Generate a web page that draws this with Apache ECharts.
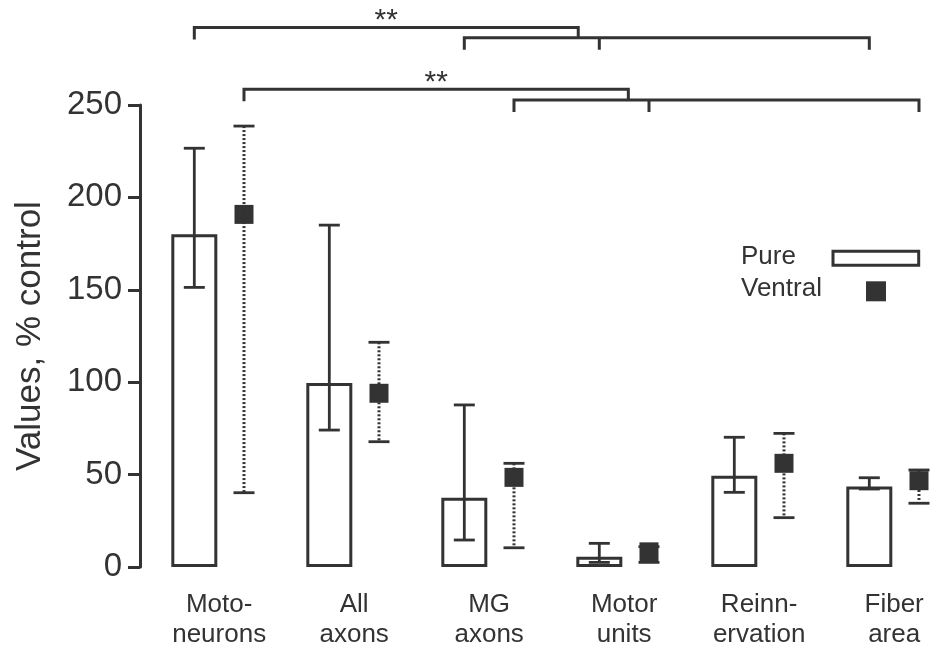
<!DOCTYPE html>
<html>
<head>
<meta charset="utf-8">
<title>Values, % control</title>
<script src="https://cdn.jsdelivr.net/npm/echarts@6/dist/echarts.min.js"></script>
<style>
  html, body { margin: 0; padding: 0; background: #fff; }
  #chart { width: 934px; height: 650px; }
</style>
</head>
<body>
<div id="chart"></div>
<script>
// categories sit at integer x; pure bar on the left, ventral marker on the right
const categories = ['Moto-\nneurons', 'All\naxons', 'MG\naxons', 'Motor\nunits', 'Reinn-\nervation', 'Fiber\narea']
const pureMean = [180, 99.5, 37.5, 5.6, 49.4, 43.5]
const pureHigh = [226.6, 185, 87.7, 12.8, 70.2, 48.3]
const pureLow = [151.3, 74.1, 14.6, 2.5, 40.4, 42.2]
const ventralMean = [190.8, 94, 48.5, 8.2, 56.1, 46.7]
const ventralHigh = [238.6, 121.6, 56.1, 11, 72.3, 52.5]
const ventralLow = [40.2, 67.8, 10.4, 2.5, 26.7, 34.5]
const yTicks = [0, 50, 100, 150, 200, 250]

// significance brackets (x in category units, y in % control)
const sigLeft = [0, 0]           // category of the single reference
const sigGroup = [[2, 3, 5], [2, 3, 5]]
const sigSide = ['pure', 'ventral']
const sigTop = [292, 258.5]
const sigJoin = [2.66, 3.031]
const sigLow = [286.4, 252.7]
const sigLabel = ['**', '**']

const shift = 0.184
const ink = '#333'
const font = 'Liberation Sans, Arial, sans-serif'

const sx = (i, side) => i + (side === 'pure' ? -shift : shift)

const errRender = dashed => (params, api) => {
  const x = api.value(0)
  const hi = api.coord([x, api.value(2)])
  const lo = api.coord([x, api.value(1)])
  const cap = 10.5
  const style = { stroke: ink, lineWidth: dashed ? 3 : 2.8, lineDash: dashed ? [2, 2] : null }
  const capStyle = { stroke: ink, lineWidth: 2.8 }
  return {
    type: 'group',
    children: [
      { type: 'line', shape: { x1: hi[0], y1: hi[1], x2: lo[0], y2: lo[1] }, style },
      { type: 'line', shape: { x1: hi[0] - cap, y1: hi[1], x2: hi[0] + cap, y2: hi[1] }, style: capStyle },
      { type: 'line', shape: { x1: lo[0] - cap, y1: lo[1], x2: lo[0] + cap, y2: lo[1] }, style: capStyle }
    ]
  }
}

const bracketRender = (params, api) => {
  const k = params.dataIndex
  const side = sigSide[k]
  const tickLen = 12
  const a = api.coord([sx(sigLeft[k], side), sigTop[k]])
  const j = api.coord([sigJoin[k], sigTop[k]])
  const jl = api.coord([sigJoin[k], sigLow[k]])
  const g = sigGroup[k].map(i => api.coord([sx(i, side), sigLow[k]]))
  const style = { stroke: ink, lineWidth: 3, fill: null }
  const children = [
    { type: 'polyline', shape: { points: [[a[0], a[1] + tickLen], a, j, jl] }, style },
    { type: 'polyline', shape: { points: [[g[0][0], g[0][1] + tickLen], g[0], g[g.length - 1], [g[g.length - 1][0], g[g.length - 1][1] + tickLen]] }, style }
  ]
  g.slice(1, -1).forEach(p => {
    children.push({ type: 'line', shape: { x1: p[0], y1: p[1], x2: p[0], y2: p[1] + tickLen }, style })
  })
  children.push({
    type: 'text',
    x: (a[0] + j[0]) / 2,
    y: a[1] + 8,
    style: { text: sigLabel[k], fill: ink, font: '30px ' + font, textAlign: 'center', textVerticalAlign: 'bottom' }
  })
  return { type: 'group', children }
}

const chart = echarts.init(document.getElementById('chart'))
chart.setOption({
  animation: false,
  textStyle: { fontFamily: font },
  grid: { left: 140, right: 0, top: 105, bottom: 83 },
  xAxis: {
    type: 'value',
    min: -0.5863,
    max: 5.2952,
    splitLine: { show: false },
    axisLine: { show: false },
    axisTick: { show: false },
    axisLabel: {
      customValues: categories.map((c, i) => i),
      formatter: v => categories[Math.round(v)],
      color: ink,
      fontSize: 26,
      lineHeight: 30,
      margin: 23
    }
  },
  yAxis: {
    type: 'value',
    min: 0,
    max: 250,
    interval: 50,
    name: 'Values, % control',
    nameLocation: 'middle',
    nameGap: 92,
    nameTextStyle: { color: ink, fontSize: 35 },
    splitLine: { show: false },
    axisLine: { show: true, onZero: false, lineStyle: { color: ink, width: 3 } },
    axisTick: { show: true, length: 12, lineStyle: { color: ink, width: 3 } },
    axisLabel: { color: ink, fontSize: 33, margin: 18, formatter: v => (yTicks.includes(v) ? String(v) : '') }
  },
  graphic: [
    { type: 'text', left: 741, top: 244, style: { text: 'Pure', fill: ink, font: '26px ' + font } },
    { type: 'rect', shape: { x: 833, y: 251.3, width: 85.7, height: 14 }, style: { fill: '#fff', stroke: ink, lineWidth: 3 } },
    { type: 'text', left: 741, top: 276, style: { text: 'Ventral', fill: ink, font: '26px ' + font } },
    { type: 'rect', shape: { x: 866, y: 281.3, width: 20, height: 20 }, style: { fill: ink } }
  ],
  series: [
    {
      name: 'Pure',
      type: 'bar',
      barWidth: 46,
      itemStyle: { color: '#fff', borderColor: ink, borderWidth: 3 },
      data: pureMean.map((v, i) => [sx(i, 'pure'), v]),
      z: 2
    },
    {
      name: 'Ventral',
      type: 'scatter',
      symbol: 'rect',
      symbolSize: 19,
      itemStyle: { color: ink, opacity: 1 },
      data: ventralMean.map((v, i) => [sx(i, 'ventral'), v]),
      z: 3
    },
    {
      name: 'Pure error',
      type: 'custom',
      renderItem: errRender(false),
      encode: { x: 0, y: [1, 2] },
      data: pureMean.map((v, i) => [sx(i, 'pure'), pureLow[i], pureHigh[i]]),
      z: 4
    },
    {
      name: 'Ventral error',
      type: 'custom',
      renderItem: errRender(true),
      encode: { x: 0, y: [1, 2] },
      data: ventralMean.map((v, i) => [sx(i, 'ventral'), ventralLow[i], ventralHigh[i]]),
      z: 4
    },
    {
      name: 'Significance',
      type: 'custom',
      clip: false,
      renderItem: bracketRender,
      encode: { x: 0, y: 1 },
      data: sigTop.map((t, k) => [sx(sigLeft[k], sigSide[k]), t]),
      z: 5
    }
  ]
})
window.addEventListener('resize', () => chart.resize())
</script>
</body>
</html>
